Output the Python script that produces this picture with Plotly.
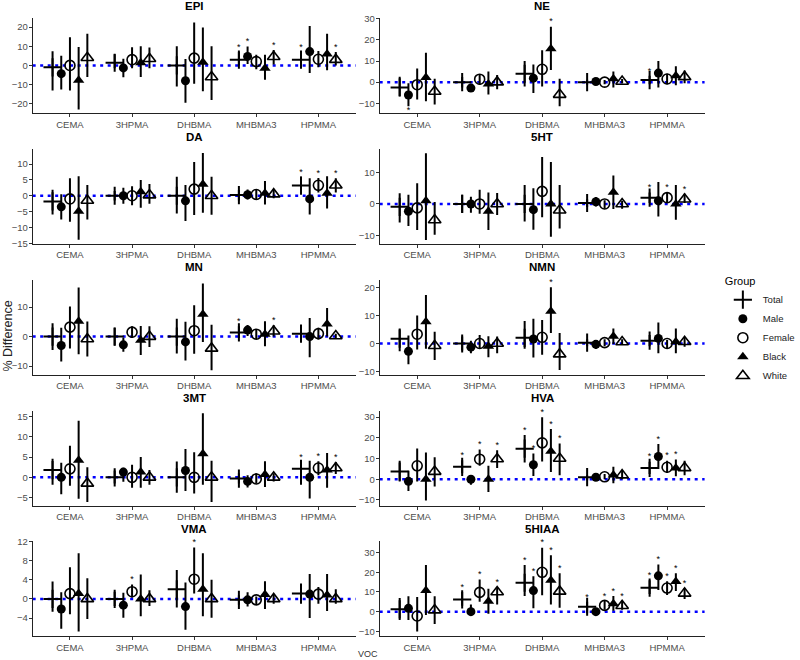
import plotly.graph_objects as go

# ---------------- data ----------------
VOCS = ["CEMA", "3HPMA", "DHBMA", "MHBMA3", "HPMMA"]
GROUPS = ["Total", "Male", "Female", "Black", "White"]
PANELS = ["EPI", "NE", "DA", "5HT", "MN", "NMN", "3MT", "HVA", "VMA", "5HIAA"]

# rows = GROUPS, columns = VOCS
EPI_EST = [[-1, 1.4, 0, 3, 3], [-4.3, -1.3, -8, 4.7, 7.2], [0, 3, 3.8, 2, 3.2], [-7.7, 1.4, 1.6, -1.5, 6], [4, 3.5, -6, 4.5, 3]]
EPI_LO = [[-13, -1.5, -11, 0, -0.5], [-12.6, -6.2, -19.5, 0.8, -4], [-13, -1.5, -9.5, -2, -1], [-23, -6, -13.5, -7.5, -2.5], [-6, -1.5, -18, 0.5, 0]]
EPI_HI = [[7.4, 5.8, 10, 7, 7], [5, 3.5, 3.3, 9.8, 20.5], [14.7, 9.5, 22.4, 5.5, 7.5], [9.6, 10, 19.7, 5.5, 16.5], [16.5, 9.3, 10, 8, 7]]
EPI_SIG = [[0, 0, 0, 1, 1], [0, 0, 0, 1, 0], [0, 0, 0, 0, 0], [0, 0, 0, 0, 0], [0, 0, 0, 1, 1]]

NE_EST = [[-2.5, 0, 4, 0, 1], [-6.1, -2.8, 1.9, 0.3, 4.3], [-1.2, 1.4, 6.1, 0, 1.5], [2.2, -0.9, 15.9, 1.6, 3], [-4.4, 0, -5.9, 0.3, 2.5]]
NE_LO = [[-6.7, -2.5, -2, -1.2, -1], [-11.4, -4.5, -5.1, -1, -2.5], [-8.2, -1.3, -2, -1, -1], [-9, -5.9, 5.8, -2.5, -1.5], [-10.6, -3.3, -11.4, -0.5, -0.5]]
NE_HI = [[2.6, 2.5, 10, 1.2, 3], [-0.5, -1, 8.4, 1.5, 10], [6.5, 3.5, 15.1, 1, 4], [13.9, 5, 26.3, 5, 7.5], [1.6, 3.4, 1.6, 1.5, 5.5]]
NE_SIG = [[0, 0, 0, 0, 1], [1, 0, 0, 0, 0], [0, 0, 0, 0, 0], [0, 0, 1, 0, 0], [0, 0, 0, 0, 0]]

DA_EST = [[-1.8, 0, 0, 0.2, 3.2], [-3.5, 0, -1.6, 0.3, -1], [-1, 0, 2.1, 0.4, 3.3], [-4.9, 1.3, 3.6, 0.8, 0.8], [-1.5, 0.2, 0, 0.5, 3.3]]
DA_LO = [[-5.9, -1.5, -5.6, -1.5, 0.6], [-7.5, -2.5, -8, -1.2, -5.9], [-8.2, -3, -6.1, -1.2, 1], [-13.9, -3.8, -5.4, -2.8, -4], [-7.5, -2.5, -6, -0.8, 1]]
DA_HI = [[1.9, 1.5, 6, 1.8, 6], [0.5, 2.5, 3.4, 2, 5.5], [5.5, 3, 10.7, 2, 5.6], [6.2, 5, 13.5, 4.7, 6.2], [3.4, 3.7, 6, 2, 5.5]]
DA_SIG = [[0, 0, 0, 0, 1], [0, 0, 0, 0, 0], [0, 0, 0, 0, 1], [0, 0, 0, 0, 0], [0, 0, 0, 0, 1]]

HT5_EST = [[-0.9, 0, 0, 0.3, 2], [-2.3, 0, -1.8, 0.7, 1], [-1.25, 0, 4, 0, 2], [1, -2.3, 0, 3.75, 0], [-5.1, 0, -2, 0, 1.5]]
HT5_LO = [[-5.9, -2.8, -5.6, -1, 0.3], [-7, -2.8, -8.2, -0.8, -4], [-8.3, -3.1, -4.2, -1.5, 0.3], [-11.4, -8.3, -10.4, -1.6, -5], [-9.8, -3.5, -7.8, -1.5, 0.3]]
HT5_HI = [[3.4, 2.9, 6, 1.5, 3.6], [2.9, 2.3, 5, 2.2, 7], [6.6, 4.5, 14.9, 1.2, 3.8], [16.1, 3.6, 13.3, 9, 6], [0.6, 3.5, 6, 1, 3.2]]
HT5_SIG = [[0, 0, 0, 0, 1], [0, 0, 0, 0, 0], [0, 0, 0, 0, 1], [0, 0, 0, 0, 0], [0, 0, 0, 0, 1]]

MN_EST = [[0, 0, 0, 1.4, 1], [-3, -2.8, -1.8, 2.2, 0], [3.2, 1.5, 2, 0.8, 1], [5.2, -1.2, 7.6, 0.8, 4.3], [-0.8, 0, -4, 1.8, 0.2]]
MN_LO = [[-4.5, -3, -5.7, -0.5, -1.5], [-8.4, -5.1, -8.1, 0.2, -7], [-4, -0.5, -5.8, -0.8, -1], [-6, -6.2, -1.8, -3.3, 0], [-6.7, -3.5, -11.4, 0, -0.8]]
MN_HI = [[4.5, 3, 6, 3.5, 3.5], [3, -0.4, 5, 3.9, 6.3], [10.2, 3.5, 10.6, 2.5, 3], [16.6, 3.6, 18, 5.2, 9.7], [5.1, 3.5, 4, 3.8, 1]]
MN_SIG = [[0, 0, 0, 1, 0], [0, 0, 0, 0, 0], [0, 0, 0, 0, 0], [0, 0, 0, 0, 0], [0, 0, 0, 1, 0]]

NMN_EST = [[1.7, 0, 2, 0.3, 1], [-2.8, -1.3, 1.6, -0.3, 1.8], [3.3, 0, 2.2, 0.3, 0], [7.7, -1, 11.5, 2.6, 0.6], [-0.8, 0, -3.8, 0.5, 0.6]]
NMN_LO = [[-2.8, -2.5, -1.9, -1, -1], [-7.4, -3.5, -5, -2, -3.5], [-2.1, -2, -4, -1, -1.8], [-1.9, -4.9, 3.7, -0.2, -3.5], [-5.9, -3.5, -9.4, -0.5, -1.2]]
NMN_HI = [[5.3, 2.5, 8, 1.5, 3], [2.8, 1, 8.8, 1, 7.5], [10, 3, 8.4, 1.5, 1.2], [17.3, 2.6, 20, 5.3, 5.3], [4.2, 2.5, 3.7, 1.5, 2.3]]
NMN_SIG = [[0, 0, 0, 0, 0], [0, 0, 0, 0, 0], [0, 0, 0, 0, 0], [0, 0, 1, 0, 0], [0, 0, 0, 0, 0]]

MT3_EST = [[1.8, 0, 0, -0.3, 2.1], [0, 1.3, 1.7, -1, 0], [2.1, 0, 0, -0.4, 2.3], [4.2, 1.3, 5.8, 0.7, 1.8], [-1.5, 0, 0, 0, 2.3]]
MT3_LO = [[-1.8, -1.5, -3.8, -1.5, -1.8], [-4.2, -1.1, -3.4, -2.5, -5.2], [-2.1, -2.6, -4, -1.5, 0.5], [-5.3, -2.6, -1.8, -2.4, -2.6], [-6.1, -1.8, -6.1, -1, 0.8]]
MT3_HI = [[4.6, 1.7, 3.9, 1, 3.8], [3.6, 2.4, 7, 0.5, 4.1], [7.8, 3.1, 6.2, 1, 4], [14, 5, 15.8, 4, 6], [2.5, 1.8, 4.1, 1, 3.8]]
MT3_SIG = [[0, 0, 0, 0, 1], [0, 0, 0, 0, 0], [0, 0, 0, 0, 1], [0, 0, 0, 0, 0], [0, 0, 0, 0, 1]]

HVA_EST = [[3.7, 6, 14.8, 1, 5.5], [-1, 0, 7, 1, 11], [6.5, 9.7, 17.6, 1.2, 5.8], [0, 0, 13.5, 2.1, 5.5], [3.7, 9.8, 10, 2, 5.5]]
HVA_LO = [[-1.1, 2.9, 8.1, -0.5, 2.5], [-5.7, -2.7, 1.6, 0.3, 5], [-1.1, 6.5, 8.6, 0, 3], [-10.3, -6.2, 3.5, -1.9, 1.5], [-3.5, 5.4, 1.9, 0, 2]]
HVA_HI = [[9, 9.2, 21.4, 2, 8.5], [4.1, 1.7, 12.4, 2, 17], [14.9, 14.4, 30, 2.5, 9], [12.9, 6.5, 24.3, 6, 9.5], [10.6, 14, 17.3, 4, 9]]
HVA_SIG = [[0, 1, 1, 0, 1], [0, 0, 1, 0, 1], [0, 1, 1, 0, 1], [0, 0, 1, 0, 1], [0, 1, 1, 0, 0]]

VMA_EST = [[0, 0, 2, -0.2, 1.1], [-2.1, -1.3, -1.6, -0.2, 1], [1.1, 1.5, 4.1, -0.2, 1], [1.1, 0, 2, 0.9, 0.8], [0, 0, 0, 0, 0]]
VMA_LO = [[-2.7, -1.5, -1.8, -1.2, -1], [-6.2, -3.9, -6.4, -1.6, -4], [-3.2, 0.3, 1.1, -1.2, -1], [-6.8, -3.6, -3.6, -2.1, -2.5], [-4.2, -1.5, -3.9, -1, -1]]
VMA_HI = [[3.6, 1.5, 6, 0.75, 3.2], [1.4, 1.3, 3.4, 1.4, 5.2], [6.6, 3, 10.7, 0.5, 2.5], [9.5, 5.1, 9.5, 3.7, 5.2], [4.3, 1.8, 4, 0.8, 2]]
VMA_SIG = [[0, 0, 0, 0, 0], [0, 0, 0, 0, 0], [0, 1, 1, 0, 0], [0, 0, 0, 0, 0], [0, 0, 0, 0, 0]]

HIAA5_EST = [[1.2, 6.2, 14.7, 2.5, 12.2], [1.7, 0, 10.7, 0, 18.2], [-2.2, 9.8, 20, 3.2, 12], [10.8, 5.3, 16, 4, 15.3], [0.8, 10, 10.3, 3, 9.3]]
HIAA5_LO = [[-4.2, 3, 8, -0.8, 9], [-4.2, -2, 1.7, -1, 11], [-10, 5, 8.3, 1, 8.5], [-1.7, -1, 3.7, 0.5, 10.5], [-6.3, 3.7, 2, 1, 6.5]]
HIAA5_HI = [[7, 10, 23.7, 5, 16], [7.8, 3.7, 18, 1, 24], [7.5, 16.3, 32.5, 5.5, 15.5], [23.7, 11.7, 28.7, 8, 19.5], [7.8, 12.3, 19.5, 5.5, 12]]
HIAA5_SIG = [[0, 1, 1, 1, 1], [0, 0, 1, 0, 1], [0, 1, 1, 1, 1], [0, 0, 1, 1, 1], [0, 1, 1, 1, 1]]

Y_TICKS = {
    "EPI": [-20, -10, 0, 10, 20], "NE": [-10, 0, 10, 20, 30],
    "DA": [-15, -10, -5, 0, 5, 10], "5HT": [-10, 0, 10],
    "MN": [-10, 0, 10], "NMN": [-10, 0, 10, 20],
    "3MT": [-5, 0, 5, 10, 15], "HVA": [-10, 0, 10, 20, 30],
    "VMA": [-4, 0, 4, 8, 12], "5HIAA": [-10, 0, 10, 20, 30],
}

# ---------------- layout / style ----------------
Y_RANGES = {
    "EPI": [-24.96, 24.53], "NE": [-14.78, 30.27],
    "DA": [-15.28, 14.76], "5HT": [-12.73, 17.42],
    "MN": [-12.94, 19.22], "NMN": [-11.16, 22.67],
    "3MT": [-6.97, 16.5], "HVA": [-12.7, 33.2],
    "VMA": [-7.79, 12.0], "5HIAA": [-12.5, 35.75],
}
DATA = {
    "EPI": (EPI_EST, EPI_LO, EPI_HI, EPI_SIG), "NE": (NE_EST, NE_LO, NE_HI, NE_SIG),
    "DA": (DA_EST, DA_LO, DA_HI, DA_SIG), "5HT": (HT5_EST, HT5_LO, HT5_HI, HT5_SIG),
    "MN": (MN_EST, MN_LO, MN_HI, MN_SIG), "NMN": (NMN_EST, NMN_LO, NMN_HI, NMN_SIG),
    "3MT": (MT3_EST, MT3_LO, MT3_HI, MT3_SIG), "HVA": (HVA_EST, HVA_LO, HVA_HI, HVA_SIG),
    "VMA": (VMA_EST, VMA_LO, VMA_HI, VMA_SIG), "5HIAA": (HIAA5_EST, HIAA5_LO, HIAA5_HI, HIAA5_SIG),
}

W, H = 800, 660
DODGE = [-0.28, -0.14, 0.0, 0.14, 0.28]
MARKERS = {
    "Total": dict(symbol="cross-thin-open", size=13, color="black", line=dict(width=2, color="black")),
    "Male": dict(symbol="circle", size=9, color="black", line=dict(width=0)),
    "Female": dict(symbol="circle-open", size=10, color="black", line=dict(width=1.6, color="black")),
    "Black": dict(symbol="triangle-up", size=10, color="black", line=dict(width=0)),
    "White": dict(symbol="triangle-up-open", size=11, color="black", line=dict(width=1.6, color="black")),
}
FONT = "Liberation Sans, Arial, sans-serif"
TICKCOL = "#4d4d4d"

COL_X = [(34, 370), (395, 733)]
ROW_TOP0, ROW_BOT0, ROW_STEP = 12.5, 109.0, 132.75

fig = go.Figure()
layout = dict(
    width=W, height=H, margin=dict(l=0, r=0, t=0, b=0),
    paper_bgcolor="white", plot_bgcolor="white",
    font=dict(family=FONT, size=10, color="black"),
    showlegend=True,
)
annotations = []
shapes = []

for k, pname in enumerate(PANELS):
    row, col = k // 2, k % 2
    ax = "" if k == 0 else str(k + 1)
    xref, yref = "x" + ax, "y" + ax
    x0, x1 = COL_X[col]
    top = ROW_TOP0 + ROW_STEP * row
    bot = ROW_BOT0 + ROW_STEP * row
    est, lo, hi, sig = DATA[pname]

    layout["xaxis" + ax] = dict(
        domain=[x0 / W, x1 / W], anchor=yref, range=[-0.6, 4.6],
        tickvals=list(range(len(VOCS))), ticktext=VOCS,
        showline=True, linecolor="#222", linewidth=1, mirror=False,
        ticks="outside", ticklen=3, tickcolor="#333", showgrid=False, zeroline=False,
        ticklabelstandoff=-1,
        tickfont=dict(family=FONT, size=9.5, color=TICKCOL), fixedrange=True,
    )
    layout["yaxis" + ax] = dict(
        domain=[1 - bot / H, 1 - top / H], anchor=xref, range=Y_RANGES[pname],
        tickvals=Y_TICKS[pname], showline=True, linecolor="#222", linewidth=1,
        ticks="outside", ticklen=3, tickcolor="#333", showgrid=False, zeroline=False,
        ticklabelstandoff=-1,
        tickfont=dict(family=FONT, size=9.5, color=TICKCOL), fixedrange=True,
    )
    # zero reference line
    shapes.append(dict(type="line", xref=xref + " domain", x0=0, x1=1, yref=yref, y0=0, y1=0,
                       line=dict(color="#0000ff", width=2.5, dash="3px,4.5px"), layer="below"))
    # title
    annotations.append(dict(text="<b>%s</b>" % pname, xref="paper", yref="paper",
                            x=(x0 + x1) / 2 / W, y=1 - (top - 4.5) / H, xanchor="center", yanchor="bottom",
                            showarrow=False, font=dict(family=FONT, size=11.5, color="black")))

    for g, grp in enumerate(GROUPS):
        xs = [i + DODGE[g] for i in range(len(VOCS))]
        ys = est[g]
        fig.add_trace(go.Scatter(
            x=xs, y=ys, mode="markers", name=grp, legendgroup=grp, showlegend=(k == 0),
            marker=MARKERS[grp], xaxis=xref, yaxis=yref, cliponaxis=False,
            error_y=dict(type="data", symmetric=False,
                         array=[h - e for h, e in zip(hi[g], ys)],
                         arrayminus=[e - l for e, l in zip(ys, lo[g])],
                         width=0, thickness=2, color="black"),
        ))
        # significance stars
        up_x, up_y, dn_x, dn_y = [], [], [], []
        for i in range(len(VOCS)):
            if sig[g][i]:
                if ys[i] < 0:
                    dn_x.append(xs[i]); dn_y.append(lo[g][i])
                else:
                    up_x.append(xs[i]); up_y.append(hi[g][i])
        if up_x:
            fig.add_trace(go.Scatter(x=up_x, y=up_y, mode="text", text=["*"] * len(up_x),
                                     textposition="top center", showlegend=False, hoverinfo="skip",
                                     textfont=dict(family=FONT, size=9, color="black"),
                                     xaxis=xref, yaxis=yref, cliponaxis=False))
        if dn_x:
            fig.add_trace(go.Scatter(x=dn_x, y=dn_y, mode="text", text=["*"] * len(dn_x),
                                     textposition="bottom center", showlegend=False, hoverinfo="skip",
                                     textfont=dict(family=FONT, size=9, color="black"),
                                     xaxis=xref, yaxis=yref, cliponaxis=False))

# axis titles
annotations.append(dict(text="% Difference", xref="paper", yref="paper", x=8 / W, y=1 - 335 / H,
                        textangle=-90, showarrow=False, xanchor="center", yanchor="middle",
                        font=dict(family=FONT, size=12.5, color="#222")))
annotations.append(dict(text="VOC", xref="paper", yref="paper", x=383 / W, y=1 - 651 / H,
                        showarrow=False, xanchor="center", yanchor="top",
                        font=dict(family=FONT, size=9, color="#333")))

layout["annotations"] = annotations
layout["shapes"] = shapes
layout["legend"] = dict(
    title=dict(text="Group", font=dict(family=FONT, size=11, color="black")),
    x=752 / W, y=1 - 269 / H, xanchor="left", yanchor="top",
    font=dict(family=FONT, size=9.5, color="#222"), bgcolor="rgba(0,0,0,0)",
    itemwidth=30, tracegroupgap=0,
)
fig.update_layout(**layout)
fig.write_html("out.html", config={"displayModeBar": False},
               post_script="document.body.style.margin='0';document.body.style.overflow='hidden';")
